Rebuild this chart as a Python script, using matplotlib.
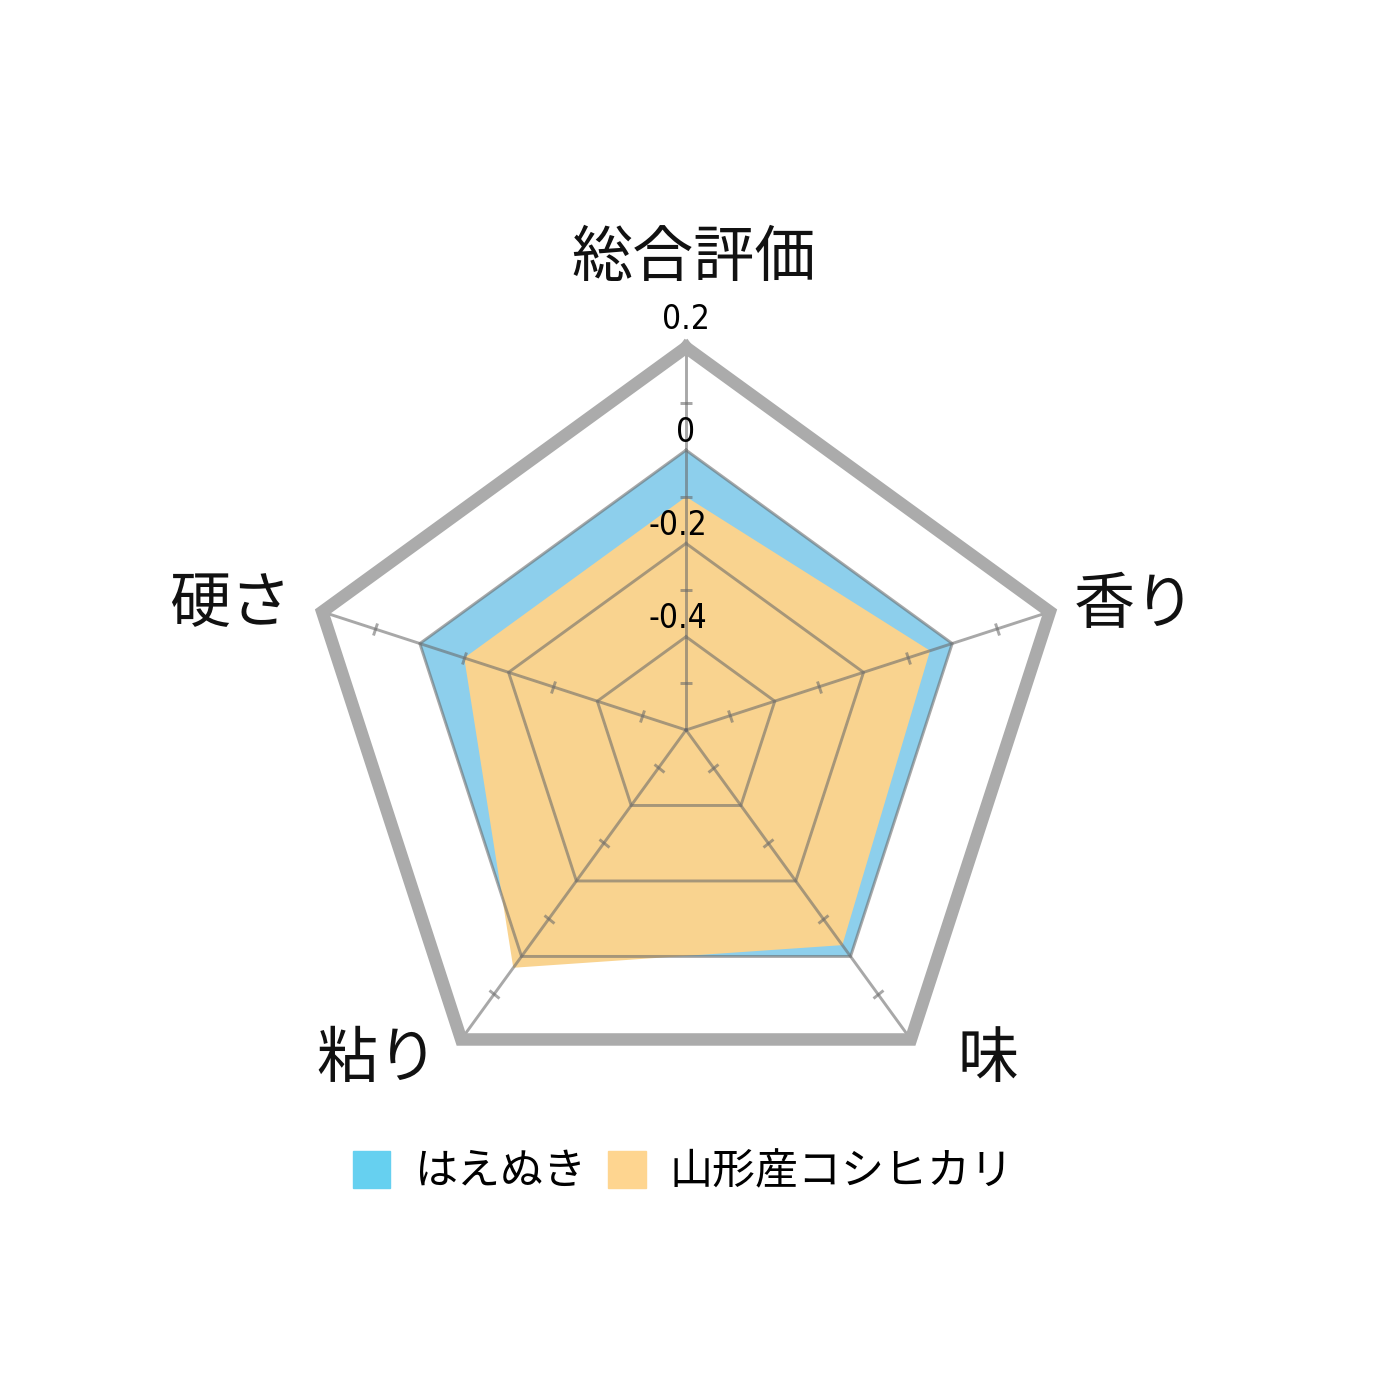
import numpy as np
import matplotlib
matplotlib.use('Agg')
import matplotlib.pyplot as plt
from matplotlib.markers import MarkerStyle
from matplotlib.patches import Patch
from matplotlib.transforms import Affine2D

plt.rcParams['font.family'] = ['Noto Sans CJK JP', 'DejaVu Sans']

# data
categories = ['総合評価', '香り', '味', '粘り', '硬さ']
hanenuki = [0, 0, 0, 0, 0]
koshihikari = [-0.10, -0.05, -0.03, 0.03, -0.10]
series_names = ['はえぬき', '山形産コシヒカリ']
ring_values = [-0.4, -0.2, 0]
ring_labels = ['-0.4', '-0.2', '0']
top_label = '0.2'
minor_values = [-0.5, -0.3, -0.1, 0.1]
r_min, r_top = -0.6, 0.22   # frame sits a little outside the last ring

fig = plt.figure(figsize=(13.74, 13.74), dpi=100)
ax = fig.add_axes([0.2209, 0.1903, 0.5568, 0.5568], projection='polar')
ax.set_theta_offset(np.pi / 2)
ax.set_theta_direction(-1)
ax.set_ylim(r_min, r_top)
ax.axis('off')

angles = np.linspace(0, 2 * np.pi, len(categories), endpoint=False)
closed = np.append(angles, angles[0])


def close(v):
    return np.append(v, v[0])


# filled series
ax.fill(closed, close(hanenuki), color='#8dcfec', lw=0, zorder=1)
ax.fill(closed, close(koshihikari), color='#f9d38f', lw=0, zorder=2)

# grid (drawn over the fills, semi transparent)
grid_kw = dict(color='#6a6a6a', alpha=0.58, lw=2.1, zorder=3, solid_joinstyle='miter')
for rv in ring_values:
    ax.plot(closed, [rv] * len(closed), **grid_kw)
for a in angles:
    ax.plot([a, a], [r_min, r_top], **grid_kw)
    phi = 90 - np.degrees(a)
    m = MarkerStyle('_', transform=Affine2D().rotate_deg(phi - 90))
    ax.plot([a] * len(minor_values), minor_values, ls='none', marker=m, ms=9,
            mew=2.1, color='#6a6a6a', alpha=0.58, zorder=3)

# outer frame
ax.plot(closed, [r_top] * len(closed), color='#ababab', lw=9, zorder=4,
        clip_on=False, solid_joinstyle='miter')

# ring labels
num_font = dict(fontsize=24, family=['DejaVu Sans'], fontstretch='condensed',
                fontweight='medium', zorder=5, annotation_clip=False)
for rv, lab in zip(ring_values, ring_labels):
    dx = -6 if rv < 0 else 0
    ax.annotate(lab, xy=(0, rv), xytext=(dx, 1), textcoords='offset points',
                ha='center', va='bottom', **num_font)
ax.annotate(top_label, xy=(0, r_top), xytext=(0, 8), textcoords='offset points',
            ha='center', va='bottom', **num_font)

# axis labels
label_pos = [(0.505, 0.8115), (0.826, 0.5590), (0.719, 0.2290),
             (0.2751, 0.2290), (0.1674, 0.5600)]
for name, (x, y) in zip(categories, label_pos):
    fig.text(x, y, name, ha='center', va='center', fontsize=44, color='#111111')

# legend
handles = [Patch(color='#66d0f0'), Patch(color='#fed590')]
fig.legend(handles, series_names, loc='center', bbox_to_anchor=(0.497, 1 - 1172 / 1374),
           ncol=2, frameon=False, fontsize=31, handlelength=0.88, handleheight=0.95,
           handletextpad=0.55, columnspacing=0.5)

fig.savefig('out.png', dpi=100, facecolor='white')
